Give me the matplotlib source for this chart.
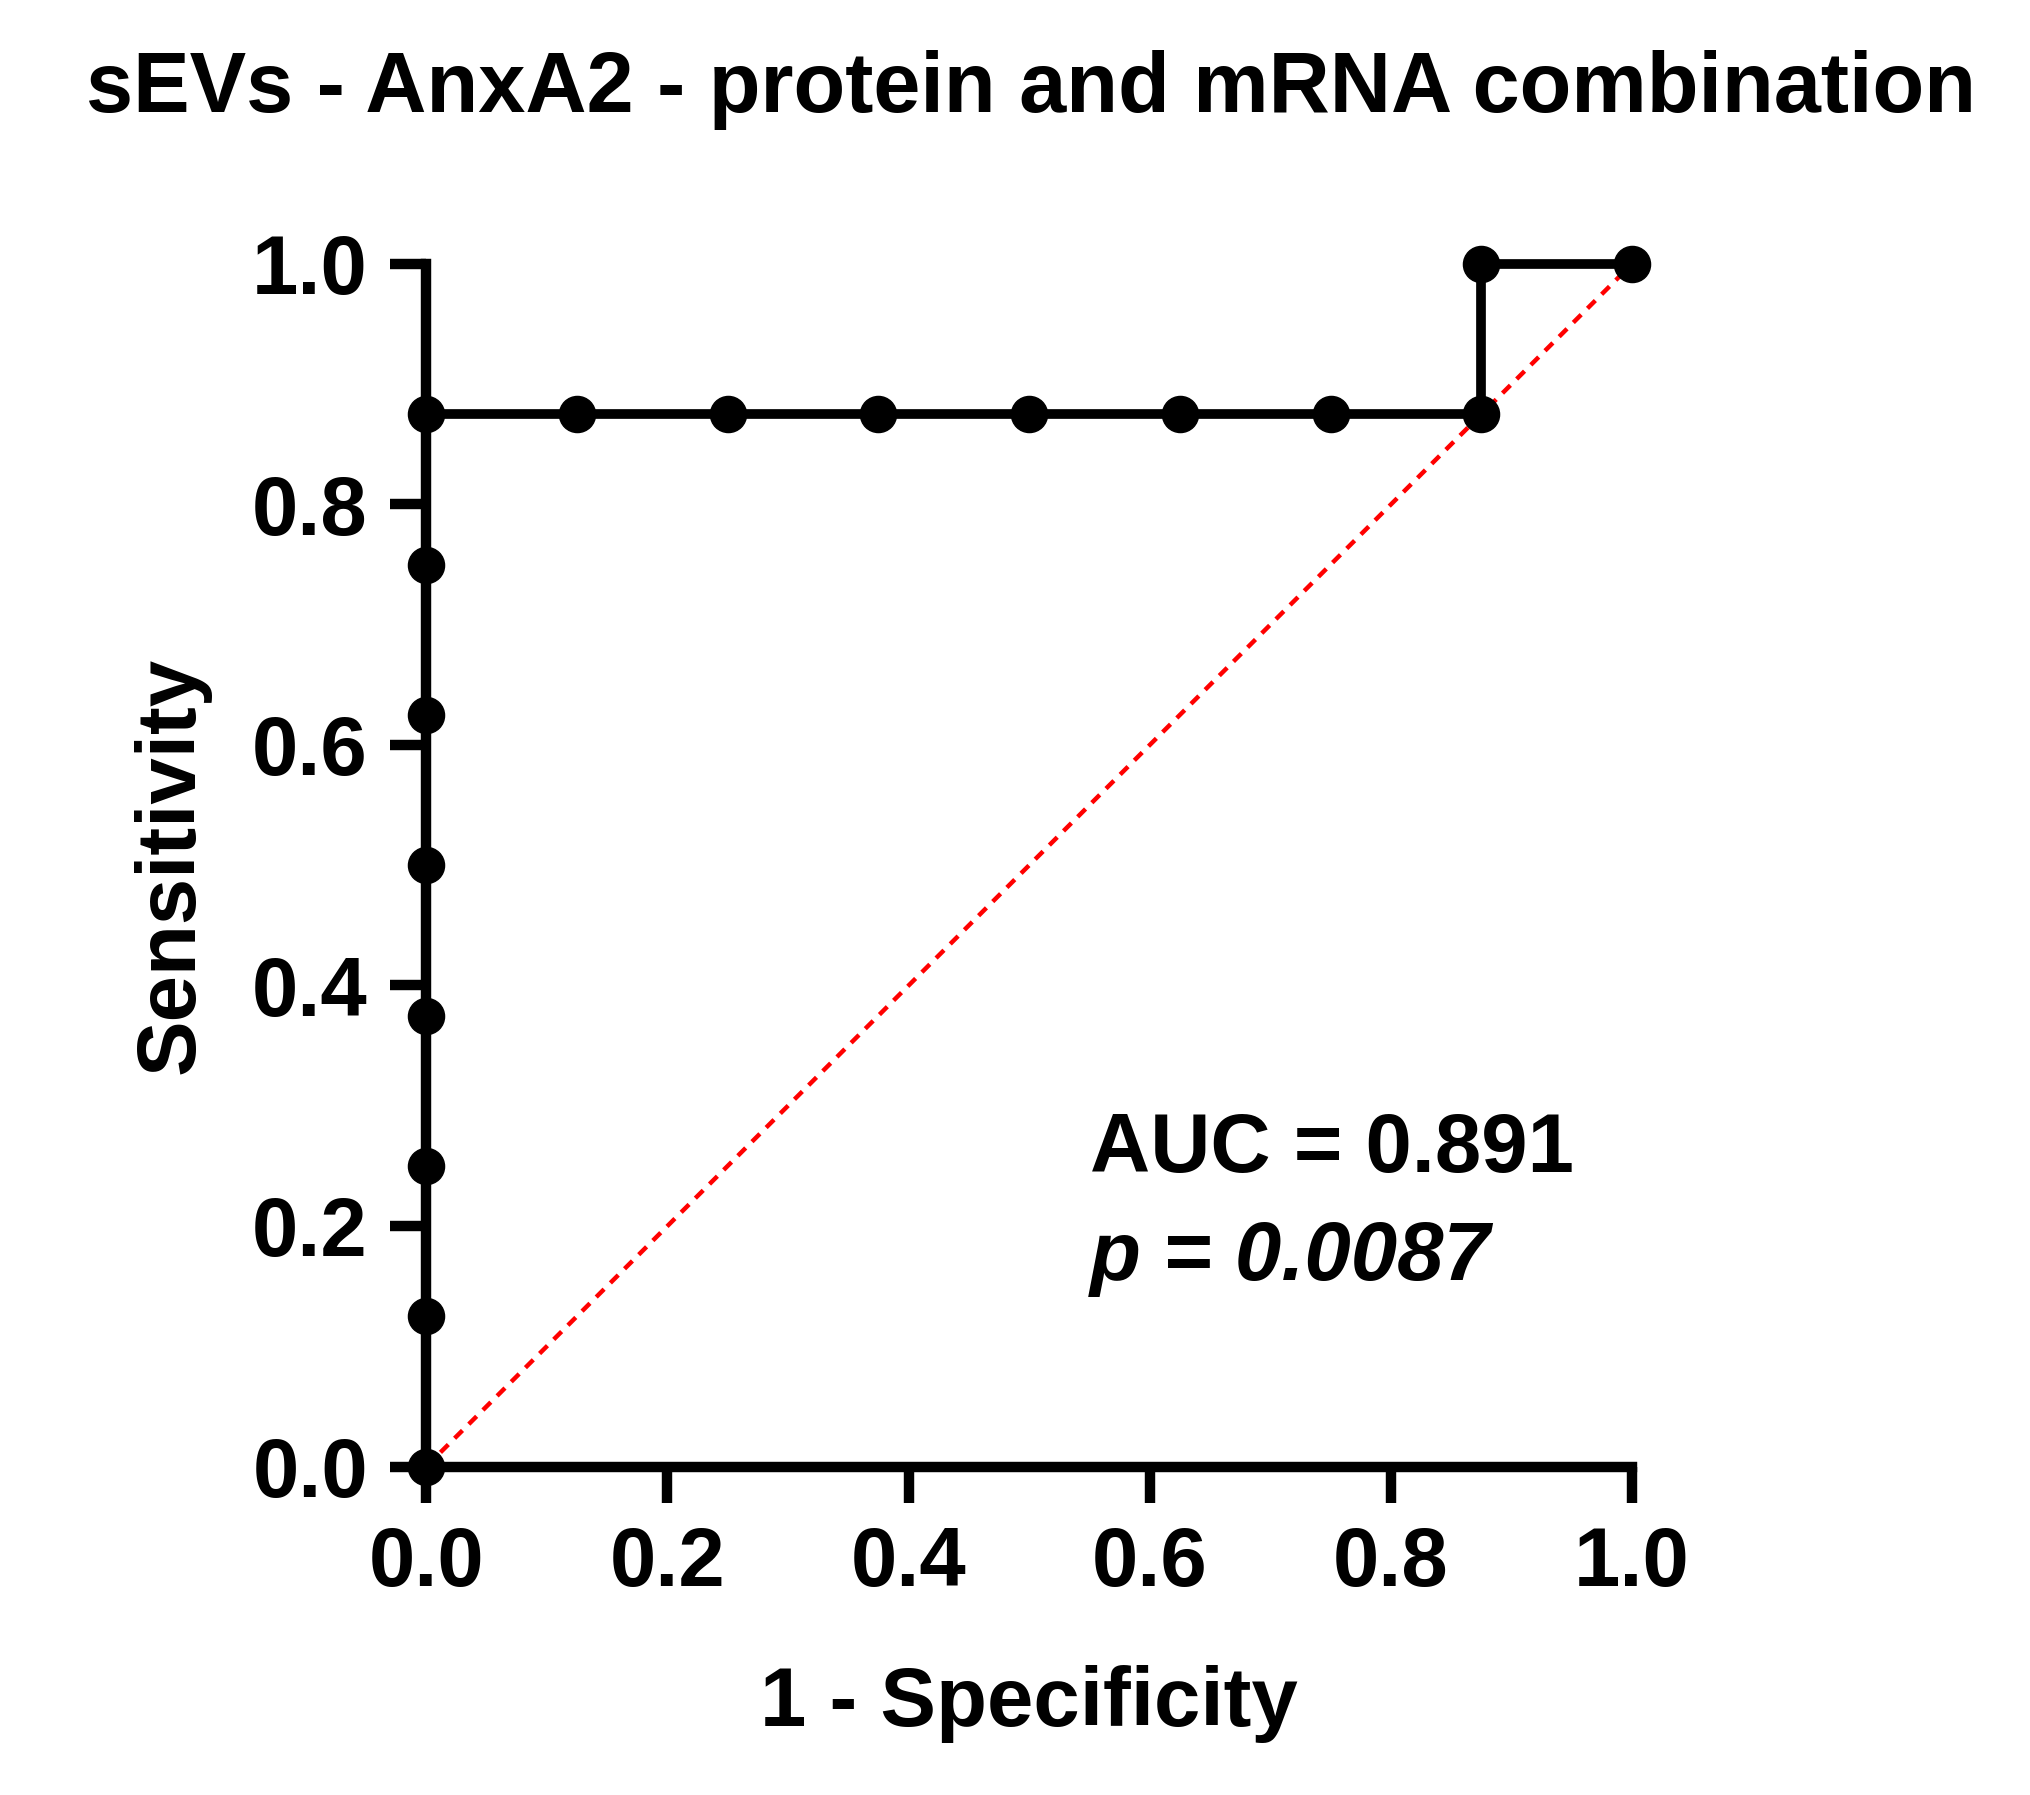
import matplotlib
matplotlib.use("Agg")
import matplotlib.pyplot as plt

fpr = [0, 0, 0, 0, 0, 0, 0, 0, 0.125, 0.25, 0.375, 0.5, 0.625, 0.75, 0.875, 0.875, 1.0]
tpr = [0, 0.125, 0.25, 0.375, 0.5, 0.625, 0.75, 0.875, 0.875, 0.875, 0.875, 0.875, 0.875, 0.875, 0.875, 1.0, 1.0]
ticks = [0.0, 0.2, 0.4, 0.6, 0.8, 1.0]

plt.rcParams['font.family'] = ['Liberation Sans', 'DejaVu Sans']
plt.rcParams['font.weight'] = 'bold'

fig = plt.figure(figsize=(20.3, 17.95), dpi=100)
ax = fig.add_axes([0.21, 0.183, 0.594, 0.67])

ax.plot([0, 1], [0, 1], color='red', ls=(0, (2.5, 2)), lw=3.2, zorder=1)
ax.plot(fpr, tpr, color='black', lw=7, marker='o', ms=26, clip_on=False, zorder=3)

ax.set_xlim(0, 1)
ax.set_ylim(0, 1)
ax.set_xticks(ticks)
ax.set_yticks(ticks)
ax.set_xticklabels([f"{t:.1f}" for t in ticks])
ax.set_yticklabels([f"{t:.1f}" for t in ticks])
for s in ['top', 'right']:
    ax.spines[s].set_visible(False)
for s in ['left', 'bottom']:
    ax.spines[s].set_linewidth(7.5)
ax.tick_params(width=7.5, length=26, labelsize=60, pad=16)
for lab in ax.get_xticklabels() + ax.get_yticklabels():
    lab.set_fontweight('bold')

ax.set_xlabel("1 - Specificity", fontsize=60, fontweight='bold', labelpad=45)
ax.set_ylabel("Sensitivity", fontsize=60, fontweight='bold', labelpad=30)
fig.suptitle("sEVs - AnxA2 - protein and mRNA combination", fontsize=61,
             fontweight='bold', x=0.508, y=0.972)

ax.text(0.55, 0.245, "AUC = 0.891", fontsize=60, fontweight='bold', transform=ax.transAxes)
ax.text(0.55, 0.155, "p = 0.0087", fontsize=60, fontweight='bold', style='italic',
        transform=ax.transAxes)

fig.savefig("out.png", dpi=100)
